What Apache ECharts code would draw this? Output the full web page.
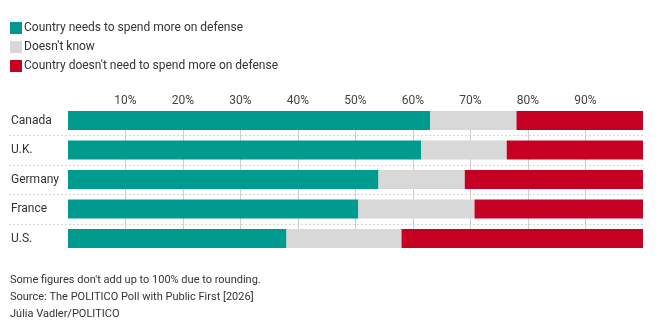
<!DOCTYPE html>
<html>
<head>
<meta charset="utf-8">
<script src="https://cdn.jsdelivr.net/npm/echarts@6/dist/echarts.min.js"></script>
<style>
html,body{margin:0;padding:0;background:#fff;}
#chart{width:665px;height:334px;}
</style>
</head>
<body>
<div id="chart"></div>
<script>
const categories = ['Canada', 'U.K.', 'Germany', 'France', 'U.S.'];
const spendMore = [63, 61.4, 54, 50.5, 38];
const dontKnow = [15, 14.9, 15, 20.2, 20];
const noNeed = [22, 23.7, 31, 29.3, 42];
const seriesNames = ['Country needs to spend more on defense', "Doesn't know", "Country doesn't need to spend more on defense"];
const colors = ['#009b8f', '#d8d8d8', '#c60022'];
const footer = ["Some figures don't add up to 100% due to rounding.", 'Source: The POLITICO Poll with Public First [2026]', 'Júlia Vadler/POLITICO'];

const FONT = 'Roboto';
const chart = echarts.init(document.getElementById('chart'));
const barTop = 105.75, barH = 147.5;
chart.setOption({
  animation: false,
  textStyle: {fontFamily: FONT},
  title: {
    text: footer.join('\n'),
    left: 10, top: 272, padding: 0,
    textStyle: {fontFamily: FONT, fontSize: 11, fontWeight: 'normal', color: '#333', lineHeight: 17}
  },
  legend: {
    orient: 'vertical', left: 10, top: 22, padding: 0,
    itemWidth: 12, itemHeight: 12, itemGap: 7,
    icon: 'rect',
    textStyle: {fontFamily: FONT, fontSize: 12, color: '#333', padding: [0, 0, 0, -3]},
    data: seriesNames
  },
  grid: [
    {left: 68, right: 22, top: barTop, height: barH},
    {left: 68, right: 22, top: 111, height: 137},
    {left: 9, right: 22, top: barTop, height: barH}
  ],
  xAxis: [
    {gridIndex: 0, type: 'value', position: 'top', min: 0, max: 100, interval: 10,
     axisLine: {show: false}, axisTick: {show: false}, splitLine: {show: false},
     axisLabel: {showMinLabel: false, showMaxLabel: false, formatter: '{value}%', color: '#444', fontSize: 12, margin: -1, fontFamily: FONT}},
    {gridIndex: 1, type: 'value', min: 0, max: 100, interval: 10,
     axisLine: {show: false}, axisTick: {show: false}, axisLabel: {show: false},
     splitLine: {show: true, showMinLine: false, showMaxLine: false, lineStyle: {color: '#cfcfcf', width: 1}}},
    {gridIndex: 2, type: 'value', show: false, min: 0, max: 1}
  ],
  yAxis: [
    {gridIndex: 0, type: 'category', data: categories, inverse: true,
     axisLine: {show: false}, axisTick: {show: false}, splitLine: {show: false},
     axisLabel: {align: 'left', margin: 57, color: '#333', fontSize: 12, fontFamily: FONT}},
    {gridIndex: 1, type: 'value', show: false, min: 0, max: 1},
    {gridIndex: 2, type: 'value', min: 0, max: 5, interval: 1,
     axisLine: {show: false}, axisTick: {show: false}, axisLabel: {show: false},
     splitLine: {show: true, showMinLine: false, showMaxLine: false, lineStyle: {color: '#d6d6d6', width: 1, type: [2, 2]}}}
  ],
  series: [spendMore, dontKnow, noNeed].map((d, i) => ({
    name: seriesNames[i], type: 'bar', stack: 'total', data: d,
    xAxisIndex: 0, yAxisIndex: 0, barWidth: 19,
    itemStyle: {color: colors[i]}, z: 3
  }))
});
</script>
</body>
</html>
